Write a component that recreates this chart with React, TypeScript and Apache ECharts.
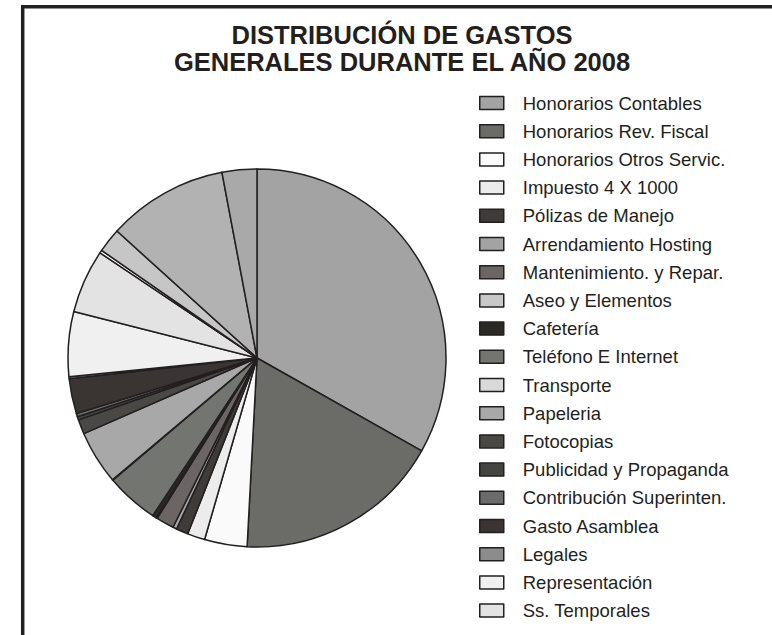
import React, { useEffect, useRef } from "react";
import * as echarts from "echarts";

const titleLines = ["DISTRIBUCIÓN DE GASTOS", "GENERALES DURANTE EL AÑO 2008"];

const categories = [
  "Honorarios Contables",
  "Honorarios Rev. Fiscal",
  "Honorarios Otros Servic.",
  "Impuesto 4 X 1000",
  "Pólizas de Manejo",
  "Arrendamiento Hosting",
  "Mantenimiento. y Repar.",
  "Aseo y Elementos",
  "Cafetería",
  "Teléfono E Internet",
  "Transporte",
  "Papeleria",
  "Fotocopias",
  "Publicidad y Propaganda",
  "Contribución Superinten.",
  "Gasto Asamblea",
  "Legales",
  "Representación",
  "Ss. Temporales",
  "Servicios Públicos",
  "Elementos de Oficina",
  "Gastos de Personal",
  "Diversos",
];

// share of total (%)
const values = [
  33.17, 17.67, 3.64, 1.5, 1.03, 0.33, 1.53, 0.08, 0.36, 4.5, 0.06, 4.58,
  1.25, 0.28, 0.28, 3.0, 0.17, 5.53, 5.44, 0.25, 2.08, 10.31, 2.97,
];

const colors = [
  "#a3a3a3", "#6b6c67", "#fafafa", "#ececec", "#3f3b38", "#a3a3a3",
  "#6b6663", "#c8c8c8", "#2b2926", "#737570", "#d9d9d9", "#a8a8a8",
  "#4a4845", "#444541", "#6b6b6b", "#3a3533", "#8c8c8c", "#f0f0f0",
  "#e3e3e3", "#fafafa", "#c6c6c6", "#b3b2b3", "#a9a9a9",
];

const legendCount = 19;

export default function App() {
  const ref = useRef<HTMLDivElement>(null);
  useEffect(() => {
    if (!ref.current) return;
    const chart = echarts.init(ref.current, null, { renderer: "svg" });
    const ink = "#231f20";
    chart.setOption({
      animation: false,
      backgroundColor: "#ffffff",
      title: {
        text: titleLines.join("\n"),
        left: 402,
        top: 21,
        padding: 0,
        textAlign: "center",
        textStyle: {
          fontFamily: "Liberation Sans, Arial, sans-serif",
          fontWeight: "bold",
          fontSize: 25.5,
          lineHeight: 27,
          color: ink,
        },
      },
      legend: {
        orient: "vertical",
        left: 479,
        top: 93.5,
        height: 800,
        padding: 0,
        itemWidth: 24,
        itemHeight: 13,
        itemGap: 9.2,
        icon: "rect",
        data: categories.slice(0, legendCount),
        selectedMode: false,
        itemStyle: { borderColor: ink, borderWidth: 1.5 },
        textStyle: {
          fontFamily: "Liberation Sans, Arial, sans-serif",
          fontSize: 18.5,
          lineHeight: 18,
          color: ink,
          padding: [0, 0, 0, 14],
        },
      },
      graphic: [
        {
          type: "line",
          shape: { x1: 21, y1: 6.8, x2: 772, y2: 6.8 },
          style: { stroke: ink, lineWidth: 3.5 },
        },
        {
          type: "line",
          shape: { x1: 22.7, y1: 5, x2: 22.7, y2: 635 },
          style: { stroke: ink, lineWidth: 3.5 },
        },
      ],
      series: [
        {
          type: "pie",
          center: [257, 358],
          radius: 189,
          startAngle: 90,
          clockwise: true,
          label: { show: false },
          labelLine: { show: false },
          emphasis: { disabled: true },
          itemStyle: { borderColor: ink, borderWidth: 1.5 },
          data: categories.map((name, i) => ({
            name,
            value: values[i],
            itemStyle: { color: colors[i] },
          })),
        },
      ],
    });
    return () => chart.dispose();
  }, []);
  return (
    <div
      ref={ref}
      style={{ position: "absolute", left: 0, top: 0, width: 772, height: 635 }}
    />
  );
}
